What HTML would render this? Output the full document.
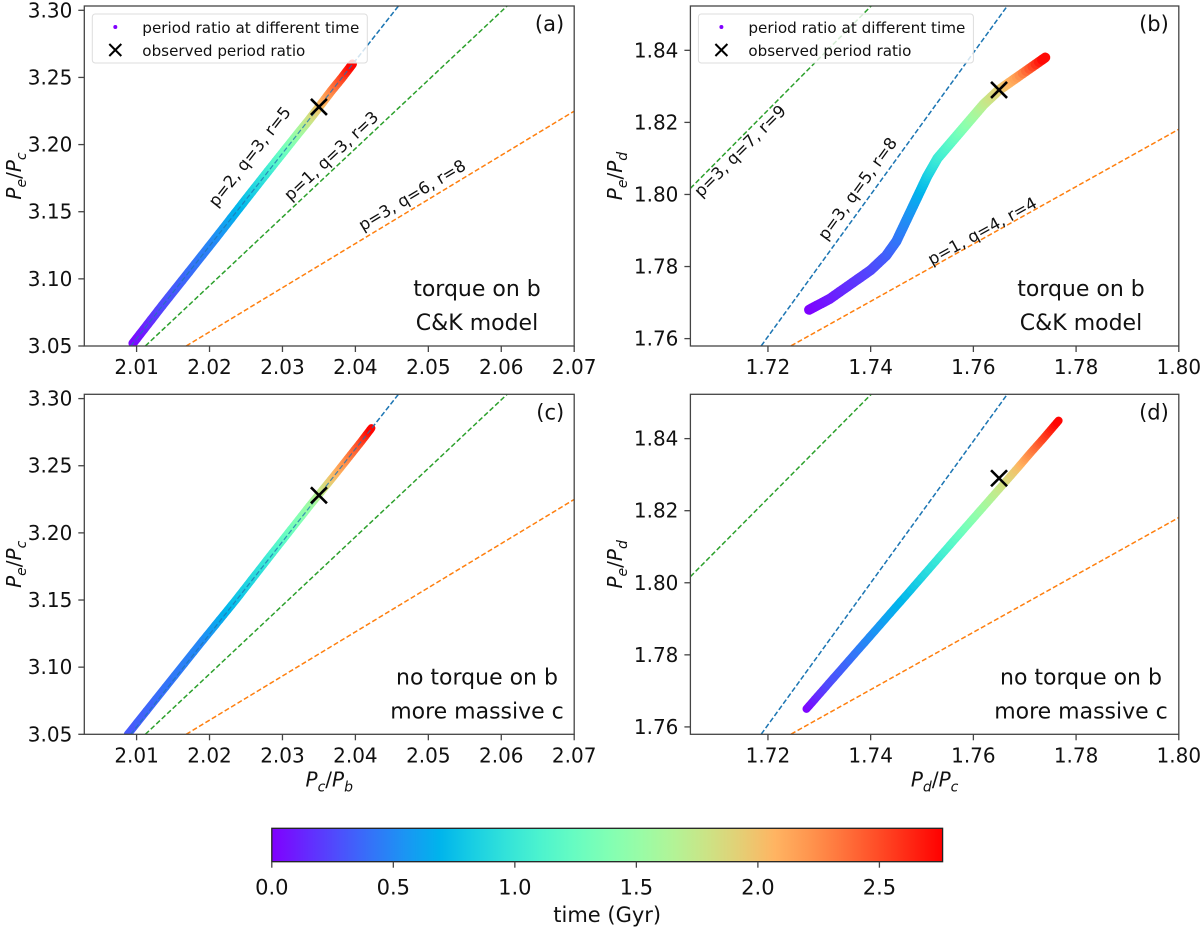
<!DOCTYPE html>
<html><head><meta charset="utf-8">
<style>
html,body{margin:0;padding:0;background:#fff;}
svg{display:block;font-family:"DejaVu Sans","Liberation Sans",sans-serif;}
</style></head>
<body>
<svg id="fig" width="1200" height="930" viewBox="0 0 1200 930" xmlns="http://www.w3.org/2000/svg"></svg>
<script>
// ---------- data ----------
// panel (a): torque on b, C&K model  (x = Pc/Pb, y = Pe/Pc)
const aTime = [0, 0.25, 0.5, 0.75, 1.0, 1.25, 1.5, 1.75, 2.0, 2.25, 2.5, 2.76];
const aX = [2.0095, 2.0135, 2.0208, 2.0251, 2.0280, 2.0302, 2.0321, 2.0336, 2.0353, 2.0367, 2.0382, 2.0396];
const aY = [3.052, 3.080, 3.130, 3.160, 3.180, 3.195, 3.208, 3.218, 3.230, 3.240, 3.250, 3.260];
// panel (b): torque on b, C&K model  (x = Pd/Pc, y = Pe/Pd)
const bTime = [0, 0.08, 0.16, 0.24, 0.32, 0.4, 0.5, 0.62, 0.8, 1.0, 1.2, 1.45, 1.7, 1.9, 2.2, 2.76];
const bX = [1.728, 1.732, 1.736, 1.740, 1.743, 1.745, 1.747, 1.749, 1.751, 1.753, 1.756, 1.759, 1.762, 1.765, 1.769, 1.774];
const bY = [1.768, 1.771, 1.775, 1.779, 1.783, 1.787, 1.793, 1.799, 1.805, 1.810, 1.815, 1.820, 1.825, 1.829, 1.833, 1.838];
// panel (c): no torque on b, more massive c
const cTime = [0.3, 0.5, 0.75, 1.0, 1.25, 1.5, 1.75, 2.0, 2.25, 2.5, 2.76];
const cX = [2.0088, 2.0191, 2.0236, 2.0279, 2.0308, 2.0337, 2.0355, 2.0370, 2.0389, 2.0408, 2.0422];
const cY = [3.050, 3.120, 3.150, 3.180, 3.200, 3.220, 3.232, 3.242, 3.255, 3.268, 3.278];
// panel (d): no torque on b, more massive c
const dTime = [0, 0.25, 0.5, 0.75, 1.0, 1.25, 1.5, 1.75, 2.0, 2.25, 2.5, 2.76];
const dX = [1.7275, 1.7318, 1.7398, 1.7478, 1.7533, 1.7576, 1.7613, 1.7650, 1.7687, 1.7711, 1.7736, 1.7766];
const dY = [1.765, 1.772, 1.785, 1.798, 1.807, 1.814, 1.820, 1.826, 1.832, 1.836, 1.840, 1.845];
// observed period ratios
const obsLeft = [2.035, 3.228];
const obsRight = [1.765, 1.829];
// resonance lines: [x1, y1, x2, y2]
const resLeftBlue = [2.0092, 3.05, 2.0459, 3.3032];
const resLeftGreen = [2.0112, 3.05, 2.0608, 3.3032];
const resLeftOrange = [2.0168, 3.05, 2.07, 3.2249];
const resRightBlue = [1.7187, 1.758, 1.7666, 1.8523];
const resRightGreen = [1.7049, 1.8017, 1.7401, 1.8523];
const resRightOrange = [1.7245, 1.758, 1.80, 1.8181];
// ticks
const leftXTicks = [2.01, 2.02, 2.03, 2.04, 2.05, 2.06, 2.07];
const leftXLabels = ["2.01", "2.02", "2.03", "2.04", "2.05", "2.06", "2.07"];
const leftYTicks = [3.05, 3.10, 3.15, 3.20, 3.25, 3.30];
const leftYLabels = ["3.05", "3.10", "3.15", "3.20", "3.25", "3.30"];
const rightXTicks = [1.72, 1.74, 1.76, 1.78, 1.80];
const rightXLabels = ["1.72", "1.74", "1.76", "1.78", "1.80"];
const rightYTicks = [1.76, 1.78, 1.80, 1.82, 1.84];
const rightYLabels = ["1.76", "1.78", "1.80", "1.82", "1.84"];
const cbTicks = [0, 0.5, 1.0, 1.5, 2.0, 2.5];
const cbLabels = ["0.0", "0.5", "1.0", "1.5", "2.0", "2.5"];
const tMax = 2.76;

const NS = "http://www.w3.org/2000/svg";
const svg = document.getElementById("fig");
function mk(tag, attrs, parent) {
  const e = document.createElementNS(NS, tag);
  for (const k in attrs) e.setAttribute(k, attrs[k]);
  (parent || svg).appendChild(e);
  return e;
}
function rainbow(t) {
  let x = Math.max(0, Math.min(1, t / tMax));
  let r = Math.abs(2 * x - 0.5), g = Math.sin(Math.PI * x), b = Math.cos(Math.PI * x / 2);
  const c = v => Math.round(255 * Math.max(0, Math.min(1, v)));
  return "rgb(" + c(r) + "," + c(g) + "," + c(b) + ")";
}

function panel(cfg) {
  const g = mk("g", {});
  
  
  const sx = v => cfg.x0 + (v - cfg.xmin) / (cfg.xmax - cfg.xmin) * (cfg.x1 - cfg.x0);
  const sy = v => cfg.y1 - (v - cfg.ymin) / (cfg.ymax - cfg.ymin) * (cfg.y1 - cfg.y0);
  const clipId = "clip-" + cfg.id;
  const cp = mk("clipPath", { id: clipId }, g);
  mk("rect", { x: cfg.x0, y: cfg.y0, width: cfg.x1 - cfg.x0, height: cfg.y1 - cfg.y0 }, cp);
  const plot = mk("g", { "clip-path": "url(#" + clipId + ")" }, g);
  cfg.lines.forEach(L => {
    const l = mk("line", { x1: sx(L.d[0]), y1: sy(L.d[1]), x2: sx(L.d[2]), y2: sy(L.d[3]), stroke: L.c, "stroke-width": 1.5, "stroke-dasharray": "5,2.5" }, plot);
    
    
  });
  const band = mk("g", {}, plot);
  
  
  const T = cfg.t, X = cfg.xs, Y = cfg.ys;
  for (let i = 0; i < T.length - 1; i++) {
    const n = 8;
    for (let k = 0; k < n; k++) {
      const f0 = k / n, f1 = (k + 1) / n;
      const xa = X[i] + (X[i + 1] - X[i]) * f0, ya = Y[i] + (Y[i + 1] - Y[i]) * f0;
      const xb = X[i] + (X[i + 1] - X[i]) * f1, yb = Y[i] + (Y[i + 1] - Y[i]) * f1;
      const tt = T[i] + (T[i + 1] - T[i]) * (f0 + f1) / 2;
      const s = mk("line", { x1: sx(xa), y1: sy(ya), x2: sx(xb), y2: sy(yb), stroke: rainbow(tt), "stroke-width": cfg.bw, "stroke-linecap": "round" }, band);
      
      
    }
  }
  const bl = cfg.lines[0];
  const ov = mk("line", { x1: sx(bl.d[0]), y1: sy(bl.d[1]), x2: sx(bl.d[2]), y2: sy(bl.d[3]), stroke: bl.c, "stroke-width": 1.2, "stroke-dasharray": "5,2.5", opacity: 0.8 }, plot);
  
  
  const ox = sx(cfg.obs[0]), oy = sy(cfg.obs[1]);
  const xm = mk("path", { d: `M${ox - 8},${oy - 8}L${ox + 8},${oy + 8}M${ox - 8},${oy + 8}L${ox + 8},${oy - 8}`, stroke: "#000", "stroke-width": 2.6, fill: "none" }, g);
  
  
  const fr = mk("rect", { x: cfg.x0, y: cfg.y0, width: cfg.x1 - cfg.x0, height: cfg.y1 - cfg.y0, fill: "none", stroke: "#444", "stroke-width": 1.3 }, g);
  
  
  cfg.xt.forEach((v, i) => {
    const px = sx(v);
    mk("line", { x1: px, y1: cfg.y1, x2: px, y2: cfg.y1 + 6, stroke: "#444", "stroke-width": 1.3 }, g);
    const t = mk("text", { x: px, y: cfg.y1 + 28, "text-anchor": "middle", "font-size": 20, fill: "#111" }, g);
    t.textContent = cfg.xl[i];
    
    
  });
  cfg.yt.forEach((v, i) => {
    const py = sy(v);
    mk("line", { x1: cfg.x0 - 6, y1: py, x2: cfg.x0, y2: py, stroke: "#444", "stroke-width": 1.3 }, g);
    const t = mk("text", { x: cfg.x0 - 12, y: py + 7, "text-anchor": "end", "font-size": 20, fill: "#111" }, g);
    t.textContent = cfg.yl[i];
    
    
  });
  const pl = mk("text", { x: cfg.x1 - 10, y: cfg.y0 + 25, "text-anchor": "end", "font-size": 21, fill: "#111" }, g);
  pl.textContent = "(" + cfg.id + ")";
  
  
  cfg.note.forEach((s, i) => {
    const t = mk("text", { x: cfg.noteX, y: cfg.y0 + cfg.noteY + i * 34, "text-anchor": "middle", "font-size": 22, fill: "#111" }, g);
    t.textContent = s;
    
    
  });
  (cfg.rl || []).forEach(r => {
    const t = mk("text", { x: r.x, y: r.y, "text-anchor": "middle", "font-size": 16.5, fill: "#111", transform: `rotate(${-r.a} ${r.x} ${r.y})` }, g);
    t.textContent = r.s;
    
    
  });
  const yl = mk("text", { x: cfg.ylx, y: (cfg.y0 + cfg.y1) / 2, "text-anchor": "middle", "font-size": 20, fill: "#111", transform: `rotate(-90 ${cfg.ylx} ${(cfg.y0 + cfg.y1) / 2})` }, g);
  yl.innerHTML = '<tspan font-style="italic">P</tspan><tspan font-style="italic" font-size="14" dy="5">e</tspan><tspan dy="-5">/</tspan><tspan font-style="italic">P</tspan><tspan font-style="italic" font-size="14" dy="5">' + cfg.ysub + '</tspan>';
  
  
  if (cfg.xsub) {
    const cx = (cfg.x0 + cfg.x1) / 2;
    const xl = mk("text", { x: cx, y: cfg.y1 + 52, "text-anchor": "middle", "font-size": 20, fill: "#111" }, g);
    xl.innerHTML = '<tspan font-style="italic">P</tspan><tspan font-style="italic" font-size="14" dy="5">' + cfg.xsub[0] + '</tspan><tspan dy="-5">/</tspan><tspan font-style="italic">P</tspan><tspan font-style="italic" font-size="14" dy="5">' + cfg.xsub[1] + '</tspan>';
    
    
  }
  if (cfg.leg) {
    const lg = mk("g", {}, g);
    
    
    const lx = cfg.x0 + 8;
    mk("rect", { x: lx, y: cfg.y0 + 8, width: 275, height: 49, rx: 3, fill: "#fff", "fill-opacity": 0.8, stroke: "#ddd", "stroke-width": 1 }, lg);
    mk("circle", { cx: lx + 23, cy: cfg.y0 + 21, r: 2, fill: rainbow(0) }, lg);
    const mx = lx + 23, my = cfg.y0 + 44;
    mk("path", { d: `M${mx - 6},${my - 6}L${mx + 6},${my + 6}M${mx - 6},${my + 6}L${mx + 6},${my - 6}`, stroke: "#000", "stroke-width": 2 }, lg);
    const t1 = mk("text", { x: lx + 50, y: cfg.y0 + 27, "font-size": 15.5, fill: "#111", textLength: 217, lengthAdjust: "spacingAndGlyphs" }, lg);
    t1.textContent = "period ratio at different time";
    
    
    const t2 = mk("text", { x: lx + 50, y: cfg.y0 + 50, "font-size": 15.5, fill: "#111", textLength: 163, lengthAdjust: "spacingAndGlyphs" }, lg);
    t2.textContent = "observed period ratio";
    
    
  }
}

const leftLines = [
  { d: resLeftBlue, c: "#1f77b4", name: "resonance-2-3-5" },
  { d: resLeftGreen, c: "#2ca02c", name: "resonance-1-3-3" },
  { d: resLeftOrange, c: "#ff7f0e", name: "resonance-3-6-8" }];
const rightLines = [
  { d: resRightBlue, c: "#1f77b4", name: "resonance-3-5-8" },
  { d: resRightGreen, c: "#2ca02c", name: "resonance-3-7-9" },
  { d: resRightOrange, c: "#ff7f0e", name: "resonance-1-4-4" }];
const LX = { x0: 84.3, x1: 574.2, xmin: 2.00283, xmax: 2.07, xt: leftXTicks, xl: leftXLabels, yt: leftYTicks, yl: leftYLabels, ymin: 3.05, ymax: 3.3032, ysub: "c", ylx: 21, noteX: 477, obs: obsLeft, lines: leftLines };
const RX = { x0: 690.4, x1: 1178.8, xmin: 1.7049, xmax: 1.80, xt: rightXTicks, xl: rightXLabels, yt: rightYTicks, yl: rightYLabels, ymin: 1.75795, ymax: 1.8523, ysub: "d", ylx: 622, noteX: 1081, obs: obsRight, lines: rightLines };

panel(Object.assign({}, LX, { id: "a", y0: 6, y1: 346, t: aTime, xs: aX, ys: aY, bw: 9, note: ["torque on b", "C&K model"], noteY: 290, leg: true,
  rl: [{ x: 254, y: 160, a: 51.8, s: "p=2, q=3, r=5" }, { x: 335, y: 160, a: 43, s: "p=1, q=3, r=3" }, { x: 415, y: 200, a: 31, s: "p=3, q=6, r=8" }] }));
panel(Object.assign({}, RX, { id: "b", y0: 6, y1: 346, t: bTime, xs: bX, ys: bY, bw: 10, note: ["torque on b", "C&K model"], noteY: 290, leg: true,
  rl: [{ x: 744, y: 155, a: 45, s: "p=3, q=7, r=9" }, { x: 862, y: 192, a: 54, s: "p=3, q=5, r=8" }, { x: 985, y: 236, a: 29, s: "p=1, q=4, r=4" }] }));
panel(Object.assign({}, LX, { id: "c", y0: 394.3, y1: 734.3, t: cTime, xs: cX, ys: cY, bw: 8, note: ["no torque on b", "more massive c"], noteY: 290, xsub: ["c", "b"] }));
panel(Object.assign({}, RX, { id: "d", y0: 394.3, y1: 734.3, t: dTime, xs: dX, ys: dY, bw: 8, note: ["no torque on b", "more massive c"], noteY: 290, xsub: ["d", "c"] }));

const cb = mk("g", {});


const defs = mk("defs", {}, cb);
const grad = mk("linearGradient", { id: "rb", x1: 0, x2: 1, y1: 0, y2: 0 }, defs);
for (let i = 0; i <= 20; i++) mk("stop", { offset: i / 20, "stop-color": rainbow(i / 20 * tMax) }, grad);
const cbx0 = 271.8, cbx1 = 942.6, cby0 = 828.3, cby1 = 861.7;
mk("rect", { x: cbx0, y: cby0, width: cbx1 - cbx0, height: cby1 - cby0, fill: "url(#rb)", stroke: "#222", "stroke-width": 1.3 }, cb);
cbTicks.forEach((v, i) => {
  const px = cbx0 + v / tMax * (cbx1 - cbx0);
  mk("line", { x1: px, y1: cby1, x2: px, y2: cby1 + 6, stroke: "#444", "stroke-width": 1.3 }, cb);
  const t = mk("text", { x: px, y: cby1 + 33, "text-anchor": "middle", "font-size": 21, fill: "#111" }, cb);
  t.textContent = cbLabels[i];
  
  
});
const cbt = mk("text", { x: (cbx0 + cbx1) / 2, y: 922, "text-anchor": "middle", "font-size": 21, fill: "#111" }, cb);
cbt.textContent = "time (Gyr)";


</script>
</body></html>
